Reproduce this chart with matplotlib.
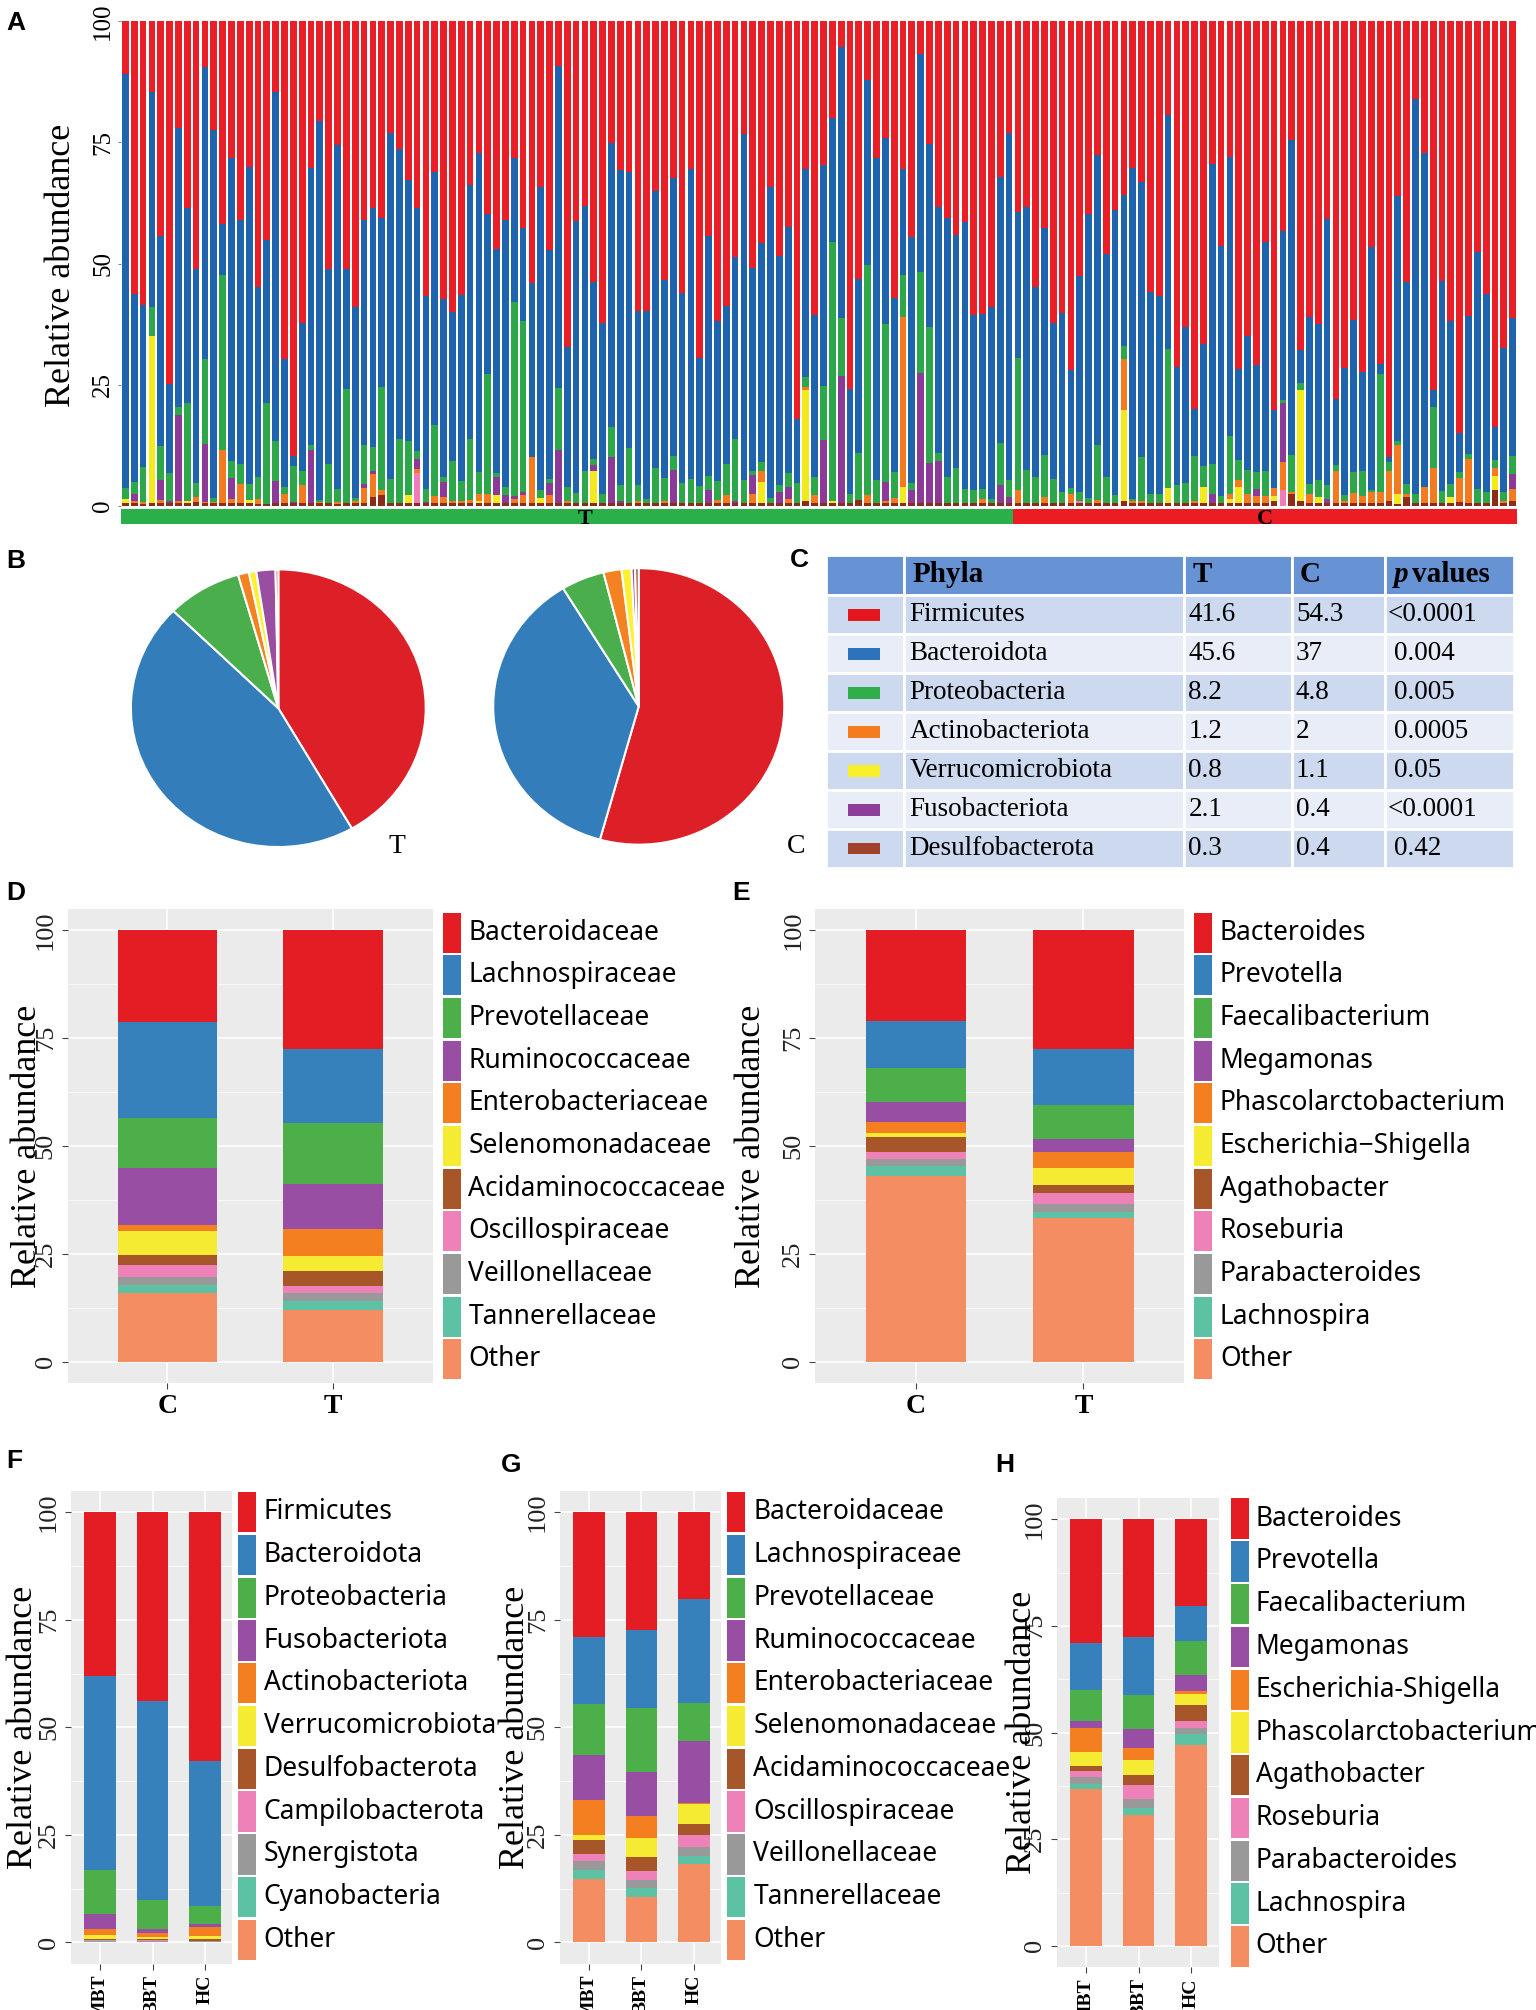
import numpy as np
import matplotlib.pyplot as plt
from matplotlib.patches import Rectangle

SERIF = "Liberation Serif"
SANS = "Noto Sans"
LETTER = "Liberation Sans"

# ---- Panel A: per-sample phylum abundance (101 T samples, 57 C samples) ----
n_T, n_C = 101, 57

firmicutes = [
    10.8, 56.3, 58.5, 14.6, 44.3, 74.8, 22.0, 38.6, 51.1, 9.5,
    22.4, 41.9, 28.1, 41.0, 30.1, 54.9, 45.2, 14.6, 69.7, 89.6,
    62.3, 30.2, 20.6, 51.1, 25.6, 51.1, 59.0, 41.0, 38.6, 40.6,
    23.0, 26.3, 32.7, 38.6, 56.6, 31.1, 57.4, 59.9, 56.4, 33.8,
    27.1, 39.7, 47.0, 41.0, 28.3, 42.6, 53.9, 34.1, 47.2, 9.3,
    67.3, 41.3, 38.1, 53.7, 62.3, 25.1, 30.7, 31.1, 59.7, 59.7,
    35.0, 53.4, 32.3, 56.0, 30.4, 69.5, 44.3, 61.9, 58.7, 48.7,
    23.3, 50.8, 45.8, 34.1, 48.5, 42.4, 82.0, 30.4, 60.6, 29.7,
    19.9, 5.3, 75.8, 53.1, 12.2, 28.3, 24.0, 57.0, 30.5, 44.6,
    6.7, 25.3, 38.4, 40.5, 44.1, 41.4, 60.7, 60.4, 59.0, 32.1,
    23.0,
    39.3, 38.3, 54.8, 42.6, 62.3, 60.1, 71.9, 52.5, 39.8,
    27.5, 48.0, 38.9, 35.8, 30.2, 33.1, 55.9, 56.6, 19.4, 71.4,
    63.0, 80.1, 66.6, 29.5, 46.3, 27.9, 71.7, 64.9, 70.9, 45.5,
    80.3, 43.2, 24.4, 67.9, 61.1, 62.5, 40.7, 77.9, 71.6, 61.6,
    72.4, 46.5, 70.7, 89.9, 36.0, 53.7, 16.1, 27.2, 76.0, 53.5,
    61.9, 85.0, 60.9, 47.6, 56.3, 83.7, 67.5, 61.2,
]
bacteroidota = [
    85.4, 38.8, 33.5, 44.4, 43.3, 18.5, 57.6, 40.1, 44.1, 60.2,
    76.0, 10.5, 62.6, 50.3, 65.3, 39.1, 33.5, 71.9, 26.4, 2.2,
    30.4, 57.3, 78.1, 40.2, 71.0, 24.7, 39.4, 46.4, 49.3, 34.8,
    71.4, 59.8, 53.9, 50.1, 40.0, 52.2, 36.6, 30.9, 38.5, 52.3,
    66.0, 33.1, 46.3, 55.0, 29.6, 19.3, 36.0, 62.7, 47.2, 66.4,
    28.8, 56.0, 54.7, 36.7, 35.2, 58.6, 65.0, 57.0, 35.9, 38.8,
    57.2, 40.8, 57.4, 39.3, 64.0, 26.4, 49.6, 33.0, 32.7, 37.4,
    71.4, 41.9, 45.1, 64.2, 47.1, 50.9, 13.3, 43.0, 33.4, 45.5,
    25.7, 56.0, 21.7, 36.0, 38.0, 66.3, 38.5, 36.0, 21.9, 50.6,
    45.1, 37.7, 50.6, 53.5, 48.0, 55.2, 36.1, 36.2, 39.5, 54.9,
    71.6,
    30.2, 54.2, 39.2, 46.8, 32.1, 37.0, 24.3, 44.6, 58.5,
    60.0, 46.0, 58.9, 31.3, 68.4, 56.8, 41.6, 40.9, 48.2, 24.3,
    32.3, 9.5, 25.2, 61.8, 51.7, 57.7, 18.9, 27.6, 22.2, 47.2,
    16.0, 35.0, 65.0, 6.8, 34.3, 32.2, 55.0, 13.7, 26.2, 31.3,
    20.3, 50.3, 2.1, 1.0, 50.5, 41.7, 81.4, 68.8, 3.6, 43.5,
    33.5, 8.0, 28.3, 49.0, 40.8, 6.8, 29.6, 28.5,
]
proteobacteria = [
    2.3, 2.5, 7.2, 5.9, 7.1, 5.7, 1.7, 20.3, 3.0, 17.5,
    0.8, 36.1, 3.5, 4.2, 3.4, 4.5, 20.9, 8.4, 1.4, 7.4,
    3.0, 1.0, 0.5, 8.2, 2.6, 23.7, 0.6, 8.0, 4.8, 21.4,
    5.1, 13.4, 11.1, 1.6, 2.6, 14.7, 1.1, 8.2, 4.1, 12.7,
    4.4, 24.7, 0.7, 1.8, 40.1, 35.2, 0.0, 1.5, 0.9, 12.7,
    2.9, 2.2, 6.5, 1.2, 2.0, 6.3, 3.3, 11.4, 3.4, 1.0,
    7.3, 4.8, 2.8, 4.2, 5.1, 3.6, 2.9, 3.8, 6.4, 12.9,
    4.8, 1.0, 1.8, 1.2, 1.5, 2.7, 4.2, 2.1, 3.8, 11.1,
    53.4, 11.9, 2.0, 9.7, 47.6, 4.9, 32.6, 5.3, 8.7, 1.6,
    20.7, 28.1, 1.7, 5.5, 7.4, 2.9, 2.7, 1.9, 1.0, 8.6,
    3.6,
    27.3, 7.0, 5.5, 8.8, 5.1, 2.4, 1.3, 1.9, 1.2,
    11.2, 5.5, 1.7, 2.6, 0.4, 9.1, 2.0, 2.0, 28.8, 3.8,
    4.2, 9.4, 4.2, 6.2, 1.5, 11.9, 4.1, 5.0, 3.5, 5.3,
    0.0, 0.5, 7.7, 1.3, 2.1, 3.5, 2.8, 1.1, 1.2, 4.4,
    5.3, 0.3, 24.3, 1.8, 1.0, 2.1, 2.0, 0.1, 12.5, 2.5,
    2.8, 1.2, 1.2, 2.9, 2.4, 1.7, 1.9, 3.8,
]
fusobacteriota = [
    0, 1.4, 0, 0, 4.1, 0.5, 17.7, 0, 0, 12.0,
    0, 0, 4.3, 0, 0, 0, 0, 4.6, 0, 0.3,
    0, 11.0, 0, 0, 0, 0, 0, 1.0, 0.8, 0,
    0, 0, 0, 2.0, 0.3, 0, 3.1, 0, 0, 0,
    0, 0, 3.8, 1.7, 0.5, 0.7, 0, 0, 2.5, 11.0,
    0, 0, 0, 1.1, 0, 9.5, 0.5, 0, 0, 0,
    0, 0, 7.0, 0, 0, 0, 2.7, 0, 0, 0.5,
    0, 3.9, 0, 0, 2.4, 2.5, 0, 0, 0, 13.2,
    0, 26.3, 0, 0, 0, 0, 3.9, 0, 0, 2.7,
    27.0, 8.4, 8.8, 0, 0, 0, 0, 0, 0, 3.9,
    1.3,
    0, 0, 0, 0, 0, 0, 0, 0, 0,
    0, 0, 0, 0, 0, 0, 0, 0, 0, 0,
    0, 0, 0, 2.0, 0, 0, 0, 0, 1.4, 0,
    0, 12.2, 0, 0, 0, 0, 1.0, 0, 0, 0,
    0, 0, 0, 0, 0, 0, 0, 0, 0, 0,
    0, 0, 0, 0, 0, 0, 0, 3.1,
]
actinobacteriota = [
    0, 0.5, 0.5, 0, 0.7, 0, 0.5, 0, 1.0, 0.3,
    0.3, 10.8, 0.8, 4.0, 0, 1.2, 0, 0, 2.0, 0,
    3.8, 0, 0.3, 0, 0.5, 0, 0.5, 3.0, 4.7, 1.0,
    0, 0, 0, 1.0, 0, 1.5, 1.3, 0.5, 0.5, 0.7,
    1.5, 2.0, 0, 0, 1.0, 1.7, 9.6, 0, 1.7, 0,
    0.5, 0, 0, 0, 0, 0, 0, 0, 0.5, 0,
    0, 0.5, 0, 0, 0, 0, 0, 0.8, 1.7, 0,
    0, 1.9, 2.4, 0, 0, 1.0, 0, 0.5, 1.7, 0,
    0, 0, 0, 0, 1.7, 0, 0.5, 1.2, 34.9, 0,
    0, 0, 0, 0, 0, 0, 0, 1.0, 0, 0,
    0,
    2.7, 0, 0, 1.3, 0, 0, 2.0, 0, 0,
    0.8, 0, 0, 10.6, 0.5, 0.5, 0, 0, 0, 0,
    0, 0.5, 0, 0, 0, 1.0, 1.4, 2.0, 1.5, 1.5,
    1.7, 5.9, 0.5, 0, 2.0, 0, 0, 6.8, 0.5, 2.2,
    1.5, 2.4, 2.4, 6.3, 10.1, 0.7, 0, 3.4, 7.4, 0,
    0, 5.0, 9.1, 0, 0, 1.6, 0.5, 2.4,
]
verrucomicrobiota = [
    1.0, 0, 0, 34.6, 0, 0, 0, 0.5, 0, 0,
    0, 0, 0, 0, 0.5, 0, 0, 0, 0, 0,
    0, 0, 0, 0, 0, 0, 0, 0, 0, 0,
    0, 0, 1.8, 0, 0, 0, 0, 0, 0, 0,
    0.5, 0, 1.7, 0, 0, 0, 0, 1.2, 0, 0,
    0, 0, 0, 6.8, 0, 0, 0, 0, 0, 0,
    0, 0, 0, 0, 0, 0, 0, 0, 0, 0,
    0, 0, 4.2, 0, 0, 0, 0, 23.0, 0, 0,
    0.5, 0, 0, 0, 0, 0, 0, 0, 3.5, 0,
    0, 0, 0, 0, 0, 0, 0, 0, 0, 0,
    0,
    0, 0, 0, 0, 0, 0, 0, 0, 0,
    0, 0, 0, 18.7, 0, 0, 0, 0, 3.1, 0,
    0, 0, 3.5, 0, 0, 1.0, 3.4, 0, 0, 0,
    1.0, 0, 0, 23.0, 0, 1.3, 0, 0, 0, 0,
    0, 0, 0, 0, 2.0, 0, 0, 0, 0, 0,
    1.3, 0, 0, 0, 0, 3.0, 0, 0,
]
campilobacterota = [0] * 158
campilobacterota[33] = 6.2
campilobacterota[108] = 0.5
campilobacterota[131] = 3.2
desulfobacterota = [
    0.5, 0.5, 0.3, 0.5, 0.5, 0.5, 0.5, 0.5, 0.8, 0.5,
    0.5, 0.7, 0.7, 0.5, 0.7, 0.3, 0.4, 0.5, 0.5, 0.5,
    0.5, 0.5, 0.5, 0.5, 0.3, 0.5, 0.5, 0.6, 1.8, 2.2,
    0.5, 0.5, 0.5, 0.5, 0.5, 0.5, 0.5, 0.5, 0.5, 0.5,
    0.5, 0.5, 0.5, 0.5, 0.5, 0.5, 0.5, 0.5, 0.5, 0.6,
    0.5, 0.5, 0.7, 0.5, 0.5, 0.5, 0.5, 0.5, 0.5, 0.5,
    0.5, 0.5, 0.5, 0.5, 0.5, 0.5, 0.5, 0.5, 0.5, 0.5,
    0.5, 0.5, 0.7, 0.5, 0.5, 0.5, 0.5, 1.0, 0.5, 0.5,
    0.5, 0.5, 0.5, 1.2, 0.5, 0.5, 0.5, 0.5, 0.5, 0.5,
    0.5, 0.5, 0.5, 0.5, 0.5, 0.5, 0.5, 0.5, 0.5, 0.5,
    0.5,
    0.5, 0.5, 0.5, 0.5, 0.5, 0.5, 0.5, 0.5, 0.5,
    0.5, 0.5, 0.5, 1.0, 0.5, 0.5, 0.5, 0.5, 0.5, 0.5,
    0.5, 0.5, 0.5, 0.5, 0.5, 0.5, 0.5, 0.5, 0.5, 0.5,
    1.0, 0.0, 2.4, 1.0, 0.5, 0.5, 0.5, 0.5, 0.5, 0.5,
    0.5, 0.5, 0.5, 1.0, 0.4, 1.8, 0.5, 0.5, 0.5, 0.5,
    0.5, 0.8, 0.5, 0.5, 0.5, 3.2, 0.5, 1.0,
]

# ---- Panels B/C: group means ----
phyla = ["Firmicutes", "Bacteroidota", "Proteobacteria", "Actinobacteriota",
         "Verrucomicrobiota", "Fusobacteriota", "Desulfobacterota"]
mean_T = [41.6, 45.6, 8.2, 1.2, 0.8, 2.1, 0.3]
mean_C = [54.3, 37, 4.8, 2, 1.1, 0.4, 0.4]
p_values = ["<0.0001", "0.004", "0.005", "0.0005", "0.05", "<0.0001", "0.42"]

# ---- Panels D-H ----
family_taxa = ["Bacteroidaceae", "Lachnospiraceae", "Prevotellaceae", "Ruminococcaceae",
               "Enterobacteriaceae", "Selenomonadaceae", "Acidaminococcaceae",
               "Oscillospiraceae", "Veillonellaceae", "Tannerellaceae", "Other"]
D_C = [21.3, 22.1, 11.8, 13.2, 1.4, 5.4, 2.4, 2.7, 2.0, 1.9, 15.8]
D_T = [27.6, 17.1, 14.2, 10.4, 6.3, 3.3, 3.5, 1.8, 1.8, 2.1, 11.9]

genus_taxa_E = ["Bacteroides", "Prevotella", "Faecalibacterium", "Megamonas",
                "Phascolarctobacterium", "Escherichia\u2212Shigella", "Agathobacter",
                "Roseburia", "Parabacteroides", "Lachnospira", "Other"]
E_C = [21.1, 10.9, 7.9, 4.5, 2.6, 1.0, 3.5, 1.5, 1.6, 2.4, 43.0]
E_T = [27.4, 13.2, 7.8, 3.1, 3.5, 4.1, 1.8, 2.5, 2.0, 1.4, 33.2]

phylum_taxa_F = ["Firmicutes", "Bacteroidota", "Proteobacteria", "Fusobacteriota",
                 "Actinobacteriota", "Verrucomicrobiota", "Desulfobacterota",
                 "Campilobacterota", "Synergistota", "Cyanobacteria", "Other"]
F_MBT = [38.0, 45.1, 10.4, 3.3, 1.5, 1.0, 0.2, 0.2, 0.1, 0.1, 0.1]
F_BBT = [44.0, 46.1, 6.9, 0.9, 0.8, 0.6, 0.2, 0.3, 0.1, 0.0, 0.1]
F_HC = [57.8, 33.8, 4.2, 0.7, 2.1, 0.7, 0.3, 0.2, 0.1, 0.0, 0.1]

G_MBT = [29.0, 15.5, 12.0, 10.3, 8.3, 1.2, 3.2, 1.7, 2.1, 1.9, 14.8]
G_BBT = [27.3, 18.3, 14.8, 10.2, 5.1, 4.4, 3.4, 2.0, 1.8, 2.1, 10.6]
G_HC = [20.1, 24.3, 8.9, 14.2, 0.4, 4.6, 2.6, 2.8, 2.0, 1.8, 18.3]

genus_taxa_H = ["Bacteroides", "Prevotella", "Faecalibacterium", "Megamonas",
                "Escherichia-Shigella", "Phascolarctobacterium", "Agathobacter",
                "Roseburia", "Parabacteroides", "Lachnospira", "Other"]
H_MBT = [29.0, 11.1, 7.2, 1.5, 5.8, 3.2, 1.2, 1.3, 1.7, 1.3, 36.7]
H_BBT = [27.5, 13.6, 8.1, 4.3, 3.0, 3.4, 2.3, 3.3, 2.1, 1.6, 30.8]
H_HC = [20.2, 8.4, 7.9, 3.8, 0.6, 2.6, 3.8, 1.5, 1.5, 2.6, 47.1]

# colours
colA = {"firm": "#E91E26", "bact": "#1E63AD", "prot": "#2CA84A", "fuso": "#8C3A98",
        "acti": "#F47A20", "verr": "#F3EA1E", "camp": "#EE7DBA", "desu": "#8A2C17"}
pie_cols = ["#DD2027", "#337EBA", "#4BAE4D", "#F58220", "#FDF033", "#9A4EA2", "#A65628"]
swatch_cols = ["#E4171F", "#2D73BA", "#2FAE4A", "#F47B20", "#FAF02A", "#8E3D98", "#A0432A"]
gg_cols = ["#E41D25", "#3680BB", "#4DAF4A", "#984EA3", "#F47F20", "#F5EB33",
           "#A65628", "#EE82B8", "#999999", "#5DC1A4", "#F58D62"]

fig = plt.figure(figsize=(15.36, 20.10), dpi=100)


def panel_letter(x, y, s):
    fig.text(x, y, s, fontsize=19, fontweight="bold", family=LETTER, ha="left", va="center")


# ================= A =================
n = n_T + n_C
axA = fig.add_axes([0.0788, 0.7483, 0.9089, 0.2418])
xs = np.arange(n)
layers = [(desulfobacterota, "desu"), (campilobacterota, "camp"), (verrucomicrobiota, "verr"),
          (actinobacteriota, "acti"), (fusobacteriota, "fuso"), (proteobacteria, "prot"),
          (bacteroidota, "bact"), (firmicutes, "firm")]
bottom = np.zeros(n)
for vals, key in layers:
    vals = np.array(vals, dtype=float)
    axA.bar(xs, vals, 0.76, bottom=bottom, color=colA[key], linewidth=0)
    bottom += vals
axA.set_xlim(-0.5, n - 0.5)
axA.set_ylim(0, 100.3)
for s in axA.spines.values():
    s.set_visible(False)
axA.set_xticks([])
axA.set_yticks([0, 25, 50, 75, 100])
axA.set_yticklabels(["0", "25", "50", "75", "100"], rotation=90, va="center",
                    family=SERIF, fontsize=18)
axA.tick_params(axis="y", length=2, pad=3, color="#888888")
fig.text(0.040, 0.868, "Relative abundance", rotation=90, ha="center", va="center",
         family=SERIF, fontsize=26)

axGrp = fig.add_axes([0.0788, 0.7393, 0.9089, 0.0075])
axGrp.set_xlim(-0.5, n - 0.5)
axGrp.set_ylim(0, 1)
axGrp.add_patch(Rectangle((-0.5, 0), n_T, 1, color="#2AAF4A", lw=0))
axGrp.add_patch(Rectangle((n_T - 0.5, 0), n_C, 1, color="#EC1C24", lw=0))
axGrp.text((n_T - 1) / 2 + 2, 0.3, "T", ha="center", va="center", family=SERIF,
           fontweight="bold", fontsize=16)
axGrp.text(n_T + (n_C - 1) / 2, 0.3, "C", ha="center", va="center", family=SERIF,
           fontweight="bold", fontsize=16)
axGrp.axis("off")
panel_letter(0.004, 0.9885, "A")

# ================= B =================
for rect, vals, lab, lx in [([0.0833, 0.5772, 0.1958, 0.1409], mean_T, "T", 0.2583),
                            ([0.3192, 0.5784, 0.1933, 0.1403], mean_C, "C", 0.5183)]:
    ax = fig.add_axes(rect)
    ax.pie(vals, colors=pie_cols, startangle=90, counterclock=False,
           wedgeprops=dict(edgecolor="white", linewidth=1.5))
    ax.set_aspect("auto")
    ax.set_xlim(-1.02, 1.02)
    ax.set_ylim(-1.02, 1.02)
    fig.text(lx, 0.579, lab, family=SERIF, fontsize=20, ha="center", va="center")
panel_letter(0.004, 0.7207, "B")

# ================= C (table) =================
axT = fig.add_axes([0.5375, 0.5683, 0.4483, 0.1556])
axT.set_xlim(0, 1)
axT.axis("off")
col_edges = [0, 0.1136, 0.521, 0.677, 0.812, 1.0]
head_h = 0.128
row_h = (1 - head_h) / len(phyla)
axT.set_ylim(1, 0)
for c in range(5):
    axT.add_patch(Rectangle((col_edges[c], 0), col_edges[c + 1] - col_edges[c], head_h,
                            facecolor="#6792D3", edgecolor="white", lw=2))
headers = ["", "Phyla", "T", "C", ""]
for c, h in enumerate(headers):
    if h:
        axT.text(col_edges[c] + 0.012, head_h / 2, h, family=SERIF, fontsize=21,
                 fontweight="bold", va="center", ha="left")
axT.text(col_edges[4] + 0.012, head_h / 2, "p", family=SERIF, fontsize=21,
         fontweight="bold", fontstyle="italic", va="center", ha="left")
axT.text(col_edges[4] + 0.039, head_h / 2, "values", family=SERIF, fontsize=21,
         fontweight="bold", va="center", ha="left")
for r in range(len(phyla)):
    y0 = head_h + r * row_h
    fc = "#CDD9EF" if r % 2 == 0 else "#E8EDF7"
    for c in range(5):
        axT.add_patch(Rectangle((col_edges[c], y0), col_edges[c + 1] - col_edges[c], row_h,
                                facecolor=fc, edgecolor="white", lw=2))
    axT.add_patch(Rectangle((0.032, y0 + row_h * 0.36), 0.047, row_h * 0.3,
                            facecolor=swatch_cols[r], lw=0))
    yc = y0 + row_h / 2
    axT.text(col_edges[1] + 0.008, yc, phyla[r], family=SERIF, fontsize=19.5, va="center")
    axT.text(col_edges[2] + 0.006, yc, f"{mean_T[r]:g}", family=SERIF, fontsize=19.5, va="center")
    axT.text(col_edges[3] + 0.006, yc, f"{mean_C[r]:g}", family=SERIF, fontsize=19.5, va="center")
    px = col_edges[4] + (0.004 if p_values[r].startswith("<") else 0.014)
    axT.text(px, yc, p_values[r], family=SERIF, fontsize=19.5, va="center")
panel_letter(0.514, 0.7213, "C")


# ================= D-H =================
def gg_panel(rect, groups, taxa, table, key_x, text_x, key_top, key_bottom, ylab_x,
             xlab_rot=0, xlab_size=20, xlim=(0.4, 2.6)):
    ax = fig.add_axes(rect)
    ax.set_facecolor("#EBEBEB")
    pos = np.arange(1, len(groups) + 1)
    data = np.array(table, dtype=float).T  # taxa x groups
    bottom = np.zeros(len(groups))
    for i in range(len(taxa) - 1, -1, -1):
        ax.bar(pos, data[i], 0.6, bottom=bottom, color=gg_cols[i], linewidth=0, zorder=3)
        bottom += data[i]
    ax.set_xlim(*xlim)
    ax.set_ylim(-5, 105)
    ax.set_yticks([0, 25, 50, 75, 100])
    ax.set_yticks([12.5, 37.5, 62.5, 87.5], minor=True)
    ax.set_yticklabels(["0", "25", "50", "75", "100"], rotation=90, va="center",
                       family=SERIF, fontsize=19, color="#222222")
    ax.set_xticks(pos)
    if xlab_rot:
        ax.set_xticklabels(groups, rotation=90, va="top", family=SERIF, fontweight="bold",
                           fontsize=xlab_size)
    else:
        ax.set_xticklabels(groups, family=SERIF, fontweight="bold", fontsize=xlab_size)
    ax.grid(True, which="major", color="white", lw=1.1, zorder=0)
    ax.grid(True, which="minor", axis="y", color="white", lw=0.5, zorder=0)
    ax.tick_params(which="major", length=4, pad=4, color="#444444")
    ax.tick_params(which="minor", length=0)
    for s in ax.spines.values():
        s.set_visible(False)
    b = rect[1]
    h = rect[3]
    fig.text(ylab_x, b + h / 2, "Relative abundance", rotation=90, ha="center",
             va="center", family=SERIF, fontsize=26)
    rh = (key_top - key_bottom) / len(taxa)
    for i, name in enumerate(taxa):
        y0 = key_top - (i + 1) * rh
        fig.patches.append(Rectangle((key_x, y0 + 0.0006), 0.0117, rh - 0.0012,
                                     transform=fig.transFigure, figure=fig,
                                     facecolor=gg_cols[i], lw=0))
        fig.text(text_x, y0 + rh / 2, name, family=SANS, fontsize=19, va="center", ha="left")
    return ax


gg_panel([0.0442, 0.3119, 0.2375, 0.2359], ["C", "T"], family_taxa, [D_C, D_T],
         0.2883, 0.305, 0.5466, 0.3131, 0.018)
panel_letter(0.004, 0.5555, "D")
gg_panel([0.5308, 0.3119, 0.2400, 0.2359], ["C", "T"], genus_taxa_E, [E_C, E_T],
         0.7775, 0.7942, 0.5466, 0.3131, 0.489)
panel_letter(0.477, 0.5555, "E")

grp3 = ["MBT", "BBT", "HC"]
gg_panel([0.0463, 0.0230, 0.1050, 0.2353], grp3, phylum_taxa_F, [F_MBT, F_BBT, F_HC],
         0.155, 0.1717, 0.2583, 0.0242, 0.0154, xlab_rot=90, xlab_size=14,
         xlim=(0.45, 3.52))
panel_letter(0.004, 0.273, "F")
gg_panel([0.3645, 0.0230, 0.1050, 0.2353], grp3, family_taxa, [G_MBT, G_BBT, G_HC],
         0.4733, 0.4905, 0.2583, 0.0242, 0.3354, xlab_rot=90, xlab_size=14,
         xlim=(0.45, 3.52))
panel_letter(0.326, 0.271, "G")
gg_panel([0.6883, 0.0213, 0.1050, 0.2334], grp3, genus_taxa_H, [H_MBT, H_BBT, H_HC],
         0.8017, 0.8175, 0.2551, 0.0210, 0.666, xlab_rot=90, xlab_size=14,
         xlim=(0.45, 3.52))
panel_letter(0.648, 0.271, "H")

fig.savefig("out.png", dpi=100)
